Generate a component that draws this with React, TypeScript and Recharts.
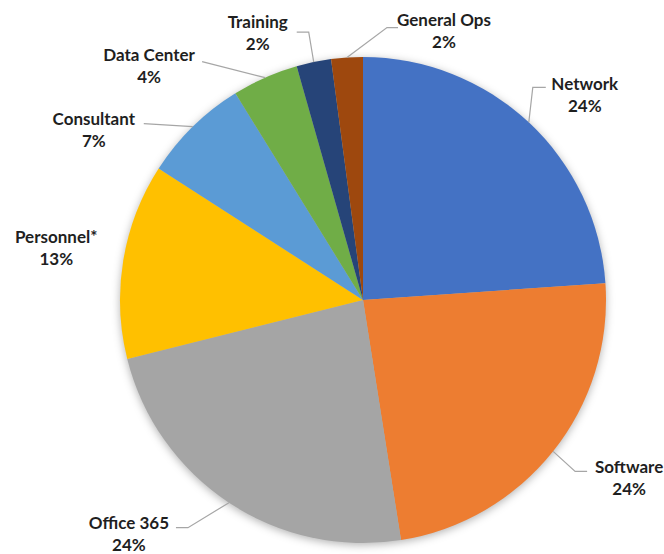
import { PieChart, Pie, Cell } from "recharts"

const categories = ["Network", "Software", "Office 365", "Personnel*", "Consultant", "Data Center", "Training", "General Ops"]
const shares = [23.9, 23.6, 23.6, 13.0, 7.1, 4.4, 2.3, 2.1]
const colors = ["#4472C4", "#ED7D31", "#A5A5A5", "#FFC000", "#5B9BD5", "#70AD47", "#264478", "#9E480E"]

const data = categories.map((name, i) => ({ name, value: shares[i] }))

// label placement relative to the point where the slice's mid angle meets the rim
// bend/end: leader line knee and end, text: centre of first line baseline
const labelLayout = [
  { bend: [4, -35], end: [17, -35], text: [56, -32] },
  { bend: [22, 20], end: [34, 20], text: [76, 22] },
  { bend: [-41, 25], end: [-53, 25], text: [-100, 26] },
  { bend: null, end: null, text: [-67, -17] },
  { bend: [-49, -3], end: [-49, -3], text: [-99, -2] },
  { bend: [-63, -16], end: [-63, -16], text: [-116, -17] },
  { bend: [-5, -30], end: [-17, -30], text: [-56, -34] },
  { bend: [40, -30], end: [51, -30], text: [97, -32] },
]

const RAD = Math.PI / 180

function renderLabel(props: any) {
  const { cx, cy, midAngle, outerRadius, percent, index, name } = props
  const ex = Number(cx) + Number(outerRadius) * Math.cos(-midAngle * RAD)
  const ey = Number(cy) + Number(outerRadius) * Math.sin(-midAngle * RAD)
  const lay = labelLayout[index]
  const tx = ex + lay.text[0]
  const ty = ey + lay.text[1]
  return (
    <g key={"lbl-" + index}>
      {lay.bend && (
        <polyline
          points={`${ex},${ey} ${ex + lay.bend[0]},${ey + lay.bend[1]} ${ex + lay.end![0]},${ey + lay.end![1]}`}
          fill="none"
          stroke="#A6A6A6"
          strokeWidth={1.2}
        />
      )}
      <text x={tx} y={ty} textAnchor="middle" fill="#1f1f1f" fontSize={17} fontWeight="bold" fontFamily="Lato, 'Noto Sans', sans-serif">
        <tspan x={tx} y={ty}>{name}</tspan>
        <tspan x={tx} y={ty + 22}>{Math.round(percent * 100)}%</tspan>
      </text>
    </g>
  )
}

export default function App() {
  return (
    <div style={{ position: "absolute", left: 0, top: 0, width: 664, height: 554, background: "#fff" }}>
      <style>{`.recharts-pie g:has(> .recharts-pie-sector) { filter: drop-shadow(0px 2px 4px rgba(0,0,0,0.3)); }`}</style>
      <PieChart width={664} height={554} margin={{ top: 0, right: 0, bottom: 0, left: 0 }}>
        <Pie
          data={data}
          dataKey="value"
          nameKey="name"
          cx={363}
          cy={300}
          outerRadius={243}
          startAngle={90}
          endAngle={-270}
          stroke="none"
          label={renderLabel}
          labelLine={false}
          isAnimationActive={false}
        >
          {data.map((d, i) => (
            <Cell key={d.name} fill={colors[i]} />
          ))}
        </Pie>
      </PieChart>
    </div>
  )
}
